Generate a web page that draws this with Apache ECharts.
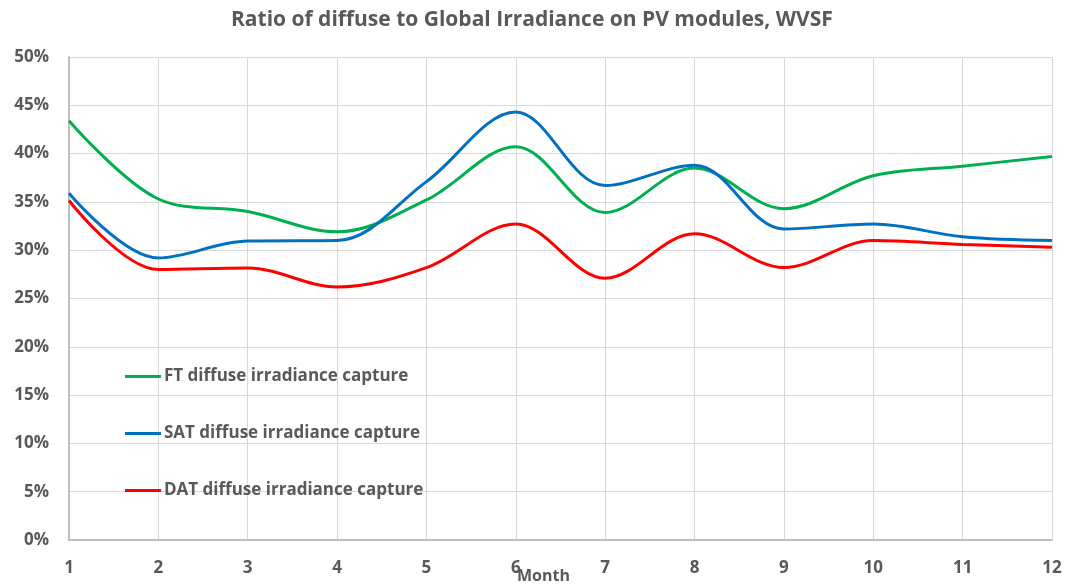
<!DOCTYPE html>
<html>
<head>
<meta charset="utf-8">
<script src="https://cdn.jsdelivr.net/npm/echarts@6/dist/echarts.min.js"></script>
<style>
  html, body { margin: 0; padding: 0; background: #fff; }
  #chart { width: 1074px; height: 586px; }
</style>
</head>
<body>
<div id="chart"></div>
<script>
// months on x axis
const months = ['1', '2', '3', '4', '5', '6', '7', '8', '9', '10', '11', '12'];

// ratio of diffuse to global irradiance, in %
const ftValues  = [43.4, 35.3, 34.0, 31.9, 35.2, 40.7, 33.9, 38.5, 34.3, 37.7, 38.7, 39.7];
const satValues = [35.9, 29.2, 30.95, 31.0, 37.1, 44.3, 36.7, 38.8, 32.2, 32.7, 31.4, 31.0];
const datValues = [35.15, 28.0, 28.15, 26.2, 28.2, 32.7, 27.1, 31.7, 28.2, 31.0, 30.6, 30.3];

const seriesNames = [
    'FT diffuse irradiance capture',
    'SAT diffuse irradiance capture',
    'DAT diffuse irradiance capture'
];

const textColor = '#595959';
const font = '"Open Sans", sans-serif';

const chart = echarts.init(document.getElementById('chart'));

const makeLine = (name, data, color) => ({
    name,
    type: 'line',
    data,
    smooth: 0.35,
    showSymbol: false,
    symbol: 'none',
    lineStyle: { color, width: 3 },
    itemStyle: { color },
    z: 3
});

chart.setOption({
    animation: false,
    title: {
        text: 'Ratio of diffuse to Global Irradiance on PV modules, WVSF',
        left: 226,
        top: 5,
        textStyle: { color: textColor, fontSize: 21, fontWeight: 'bold', fontFamily: font }
    },
    legend: {
        orient: 'vertical',
        left: 125,
        top: 368,
        padding: 0,
        itemGap: 40,
        itemWidth: 36,
        itemHeight: 3,
        icon: 'rect',
        textStyle: { color: textColor, fontSize: 17, fontWeight: 'bold', fontFamily: font, padding: [0, 0, 0, -2] },
        data: seriesNames
    },
    grid: { left: 69, right: 22, top: 57, bottom: 46, outerBoundsMode: 'none', containLabel: false },
    xAxis: {
        type: 'category',
        data: months,
        boundaryGap: false,
        name: 'Month',
        nameLocation: 'middle',
        nameGap: 28,
        nameMoveOverlap: false,
        nameTextStyle: { color: textColor, fontSize: 16, fontWeight: 'bold', fontFamily: font, padding: [0, 34, 0, 0] },
        axisLine: { lineStyle: { color: '#bfbfbf', width: 2 } },
        axisTick: { show: false },
        axisLabel: { color: textColor, fontSize: 17, fontWeight: 'bold', fontFamily: font, margin: 20 },
        splitLine: { show: true, lineStyle: { color: '#d9d9d9', width: 1 } }
    },
    yAxis: {
        type: 'value',
        min: 0,
        max: 50,
        interval: 5,
        axisLine: { show: true, lineStyle: { color: '#bfbfbf', width: 2 } },
        axisTick: { show: false },
        axisLabel: {
            color: textColor, fontSize: 17, fontWeight: 'bold', fontFamily: font, margin: 20,
            formatter: v => v + '%'
        },
        splitLine: { lineStyle: { color: '#d9d9d9', width: 1 } }
    },
    series: [
        makeLine(seriesNames[0], ftValues, '#00b050'),
        makeLine(seriesNames[1], satValues, '#0070c0'),
        makeLine(seriesNames[2], datValues, '#ff0000')
    ]
});
</script>
</body>
</html>
